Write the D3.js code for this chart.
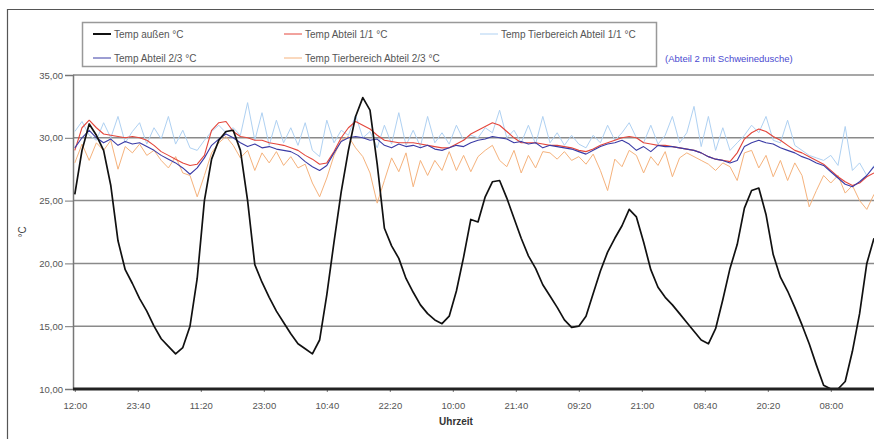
<!DOCTYPE html>
<meta charset="utf-8">
<style>
	body { margin: 0; background: #fff; }
	svg text { font-family: "Liberation Sans", Arial, sans-serif; }
	.axis path, .axis line { stroke: #777; }
	.axis text { fill: #555; font-size: 9.5px; }
</style>
<svg width="874" height="439"></svg>
<script src="https://cdn.jsdelivr.net/npm/d3@7"></script>
<script>
	// Messwerte alle 80 min ab 12:00
	var stepMin = 80

	var aussen = [25.5, 29.0, 31.1, 30.2, 29.0, 26.2, 21.8, 19.5, 18.4, 17.2,
		16.2, 15.0, 14.0, 13.4, 12.8, 13.3, 15.0, 18.8, 25.0, 28.3,
		29.8, 30.5, 30.6, 29.0, 25.0, 19.9, 18.5, 17.3, 16.2, 15.3,
		14.4, 13.6, 13.2, 12.8, 13.9, 17.5, 21.7, 25.7, 29.0, 31.7,
		33.2, 32.2, 27.9, 22.8, 21.4, 20.4, 18.8, 17.7, 16.7, 16.0,
		15.5, 15.2, 15.8, 17.8, 20.5, 23.5, 23.3, 25.3, 26.5, 26.6,
		25.2, 23.6, 22.0, 20.6, 19.6, 18.3, 17.4, 16.5, 15.5, 14.9,
		15.0, 15.8, 17.6, 19.4, 20.9, 22.0, 23.0, 24.3, 23.7, 21.7,
		19.5, 18.1, 17.3, 16.7, 16.0, 15.3, 14.6, 13.9, 13.6, 14.8,
		17.1, 19.6, 21.5, 24.4, 25.8, 26.0, 23.9, 20.7, 18.9, 17.8,
		16.5, 15.1, 13.6, 11.9, 10.3, 10.0, 10.0, 10.6, 13.0, 16.0,
		20.0, 22.0]

	var abteil11 = [29.0, 30.8, 31.4, 30.8, 30.3, 30.2, 30.1, 30.0, 30.1, 30.0,
		29.8, 29.4, 28.9, 28.6, 28.3, 28.0, 27.8, 27.9, 28.6, 30.6,
		31.2, 31.3, 30.5, 30.1, 30.0, 29.8, 29.8, 29.6, 29.5, 29.4,
		29.2, 29.0, 28.6, 28.3, 27.9, 28.0, 28.9, 30.0, 30.8, 31.3,
		31.0, 30.7, 30.2, 29.8, 29.7, 29.6, 29.6, 29.6, 29.5, 29.4,
		29.3, 29.2, 29.2, 29.5, 29.8, 30.3, 30.6, 30.9, 31.2, 31.0,
		30.5, 30.0, 29.6, 29.6, 29.6, 29.5, 29.4, 29.4, 29.3, 29.2,
		29.0, 28.9, 29.1, 29.4, 29.6, 29.8, 30.0, 30.1, 30.0, 29.6,
		29.5, 29.4, 29.4, 29.3, 29.2, 29.1, 29.0, 28.8, 28.5, 28.3,
		28.2, 28.1, 28.8, 29.9, 30.4, 30.7, 30.5, 30.1, 29.8, 29.4,
		29.0, 28.8, 28.5, 28.2, 27.9, 27.4, 26.9, 26.5, 26.2, 26.4,
		26.9, 27.2]

	var abteil23 = [29.2, 30.0, 30.6, 30.0, 29.6, 29.9, 29.4, 29.7, 29.5, 29.6,
		29.3, 29.0, 28.6, 28.3, 28.0, 27.6, 27.1, 27.6, 28.4, 29.4,
		29.9, 30.3, 30.0, 29.6, 29.3, 29.5, 29.2, 29.3, 29.1, 29.0,
		28.9, 28.6, 28.1, 27.7, 27.4, 27.8, 28.8, 29.7, 30.0, 30.1,
		30.0, 29.8, 29.9, 29.4, 29.2, 29.5, 29.3, 29.4, 29.2, 29.4,
		29.1, 29.0, 29.2, 29.4, 29.3, 29.6, 29.8, 29.9, 30.1, 30.0,
		29.9, 29.6, 29.7, 29.5, 29.6, 29.2, 29.4, 29.3, 29.2, 29.1,
		28.9, 28.7, 29.0, 29.3, 29.5, 29.6, 29.8, 29.5, 29.0, 29.3,
		28.9, 29.4, 29.3, 29.3, 29.2, 29.1, 29.0, 28.8, 28.5, 28.3,
		28.2, 28.0, 28.2, 29.3, 29.6, 29.8, 29.6, 29.5, 29.2, 29.0,
		28.8, 28.5, 28.3, 28.0, 27.8, 27.3, 26.8, 26.3, 26.1, 26.5,
		27.0, 27.7]

	var tier11 = [30.5, 31.3, 30.2, 29.8, 31.2, 30.0, 31.7, 29.6, 30.5, 31.2,
		29.5, 30.8, 29.9, 31.7, 29.5, 30.6, 29.2, 29.0, 29.8, 30.5,
		31.0, 30.4, 30.8, 30.2, 32.8, 29.8, 32.0, 29.4, 31.4, 29.6,
		30.8, 29.4, 31.2, 29.0, 28.5, 31.4, 29.6, 30.6, 30.2, 31.8,
		30.0, 30.5, 29.2, 31.0, 29.5, 32.0, 29.4, 30.6, 29.3, 31.7,
		29.6, 30.4, 29.5, 31.0, 29.8, 30.2, 30.0, 30.8, 30.4, 32.2,
		30.0, 30.6, 29.6, 31.0, 29.5, 31.7, 29.6, 30.4, 29.4, 30.2,
		29.5, 29.2, 30.2, 29.6, 31.0, 29.8, 30.4, 31.2, 30.0, 29.6,
		31.0, 29.5, 30.2, 31.7, 29.6, 30.4, 32.5, 29.3, 31.7, 29.0,
		30.8, 29.0, 29.6, 30.2, 31.0, 30.4, 31.7, 29.8, 29.6, 31.4,
		29.4, 29.0, 28.6, 28.4, 28.2, 28.6, 27.8, 30.9, 27.4, 28.0,
		27.0, 27.8]

	var tier23 = [28.0, 29.5, 28.2, 29.6, 29.0, 29.8, 27.5, 29.3, 28.8, 29.5,
		28.6, 29.0, 28.2, 27.6, 28.5, 27.2, 27.0, 25.3, 27.0, 28.8,
		29.6, 30.1, 29.4, 28.4, 29.0, 27.4, 28.8, 28.0, 28.9, 27.8,
		28.5, 27.6, 27.9, 26.4, 25.3, 26.8, 28.6, 29.8, 30.1, 29.2,
		28.5, 27.2, 24.8, 26.6, 28.4, 27.3, 28.8, 26.1, 28.2, 27.0,
		28.2, 27.4, 28.9, 27.4, 28.6, 27.3, 28.5, 29.0, 29.4, 28.2,
		27.7, 29.0, 27.2, 28.6, 27.6, 28.9, 28.8, 28.3, 28.9, 28.2,
		28.5, 27.9, 28.7, 27.4, 25.8, 28.3, 27.7, 29.0, 28.6, 27.2,
		28.5, 27.8, 28.9, 26.9, 28.4, 28.8, 28.5, 28.2, 27.9, 27.4,
		28.0, 27.7, 26.6, 28.8, 29.0, 27.6, 28.6, 26.9, 28.2, 26.6,
		28.0, 27.0, 24.5, 25.8, 27.0, 26.4, 27.0, 25.6, 26.2, 25.0,
		24.3, 25.5]

	var yTicks = [10, 15, 20, 25, 30, 35]
	var tickMinutes = [0, 700, 1400, 2100, 2800, 3500, 4200, 4900, 5600, 6300, 7000, 7700, 8400]

	var svg = d3.select('svg')
	var start = new Date(2000, 0, 1, 12, 0)
	var t = function (m) { return new Date(start.getTime() + m * 60000) }

	var x = d3.scaleTime().domain([t(-20), t(8880)]).range([73, 874]),
		y = d3.scaleLinear().domain([10, 35]).range([389, 75])

	// Rahmen
	svg.append('path')
		.attr('d', 'M7.5,439 V9.5 H874')
		.attr('fill', 'none')
		.attr('stroke', '#555')
		.attr('stroke-width', 1.2)

	// Gitterlinien
	svg.append('g').selectAll('line')
		.data(yTicks.filter(d => d > 10))
		.enter().append('line')
		.attr('x1', 73).attr('x2', 874)
		.attr('y1', d => y(d)).attr('y2', d => y(d))
		.attr('stroke', '#8a8a8a')
		.attr('stroke-width', 1.5)

	var yAxis = d3.axisLeft(y).tickValues(yTicks).tickSize(8).tickPadding(2)
		.tickFormat(d => d3.format('.2f')(d).replace('.', ','))
	svg.append('g').attr('class', 'axis')
		.attr('transform', 'translate(73,0)')
		.call(yAxis)
		.call(g => g.select('.domain').attr('stroke', '#888').attr('stroke-width', 1.5))

	var xAxis = d3.axisBottom(x).tickValues(tickMinutes.map(t)).tickSize(3).tickPadding(10)
		.tickFormat(d3.timeFormat('%H:%M'))
	svg.append('g').attr('class', 'axis')
		.attr('transform', 'translate(0,389)')
		.call(xAxis)
		.call(g => g.select('.domain').remove())

	var line = d3.line()
		.x((d, i) => x(t(i * stepMin)))
		.y(d => y(d))

	var series = [
		{ data: tier11, color: '#afd1f2', w: 1 },
		{ data: tier23, color: '#f5b27c', w: 1 },
		{ data: abteil11, color: '#e4473c', w: 1.1 },
		{ data: abteil23, color: '#3b3ca6', w: 1.1 },
		{ data: aussen, color: '#111', w: 1.7 }
	]
	svg.append('g').selectAll('path')
		.data(series)
		.enter().append('path')
		.attr('fill', 'none')
		.attr('stroke', d => d.color)
		.attr('stroke-width', d => d.w)
		.attr('stroke-linejoin', 'round')
		.attr('d', d => line(d.data))

	// dicke Linie bei 10
	svg.append('line')
		.attr('x1', 73).attr('x2', 874)
		.attr('y1', y(10)).attr('y2', y(10))
		.attr('stroke', '#222')
		.attr('stroke-width', 3)

	// Achsentitel
	svg.append('text')
		.attr('transform', 'translate(26,232) rotate(-90)')
		.attr('text-anchor', 'middle')
		.attr('font-size', 10)
		.attr('fill', '#444')
		.text('°C')
	svg.append('text')
		.attr('x', 456).attr('y', 425)
		.attr('text-anchor', 'middle')
		.attr('font-size', 10)
		.attr('font-weight', 'bold')
		.attr('fill', '#333')
		.text('Uhrzeit')

	// Legende
	var legend = [
		{ name: 'Temp außen °C', color: '#111', w: 2, lx: 93, ly: 34 },
		{ name: 'Temp Abteil 1/1 °C', color: '#e4473c', w: 1, lx: 284, ly: 34 },
		{ name: 'Temp Tierbereich Abteil 1/1 °C', color: '#afd1f2', w: 1, lx: 480, ly: 34 },
		{ name: 'Temp Abteil 2/3 °C', color: '#3b3ca6', w: 1, lx: 93, ly: 58 },
		{ name: 'Temp Tierbereich Abteil 2/3 °C', color: '#f5b27c', w: 1, lx: 284, ly: 58 }
	]
	svg.append('rect')
		.attr('x', 82.5).attr('y', 22.5)
		.attr('width', 574).attr('height', 44)
		.attr('fill', '#fff')
		.attr('stroke', '#999')
		.attr('stroke-width', 1.5)
	var lg = svg.append('g').selectAll('g')
		.data(legend)
		.enter().append('g')
		.attr('transform', d => 'translate(' + d.lx + ',' + d.ly + ')')
	lg.append('line')
		.attr('x1', 0).attr('x2', 18)
		.attr('stroke', d => d.color)
		.attr('stroke-width', d => d.w)
	lg.append('text')
		.attr('x', 21).attr('y', 3.5)
		.attr('font-size', 10)
		.attr('fill', '#555')
		.text(d => d.name)

	svg.append('text')
		.attr('x', 665).attr('y', 62)
		.attr('font-size', 9.5)
		.attr('fill', '#4a4ad0')
		.text('(Abteil 2 mit Schweinedusche)')
</script>
